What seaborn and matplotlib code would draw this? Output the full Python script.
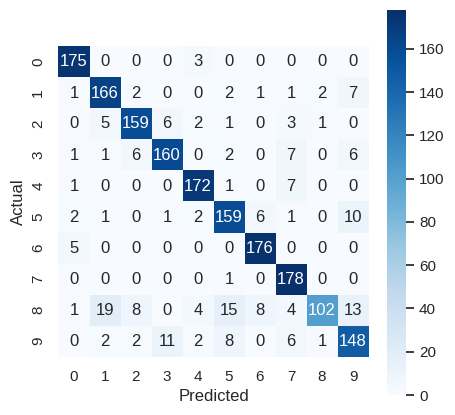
import numpy as np
import matplotlib
matplotlib.use("Agg")
import matplotlib.pyplot as plt
import seaborn as sns

# confusion matrix values (rows = actual, cols = predicted)
labels = [0, 1, 2, 3, 4, 5, 6, 7, 8, 9]
row0 = [175, 0, 0, 0, 3, 0, 0, 0, 0, 0]
row1 = [1, 166, 2, 0, 0, 2, 1, 1, 2, 7]
row2 = [0, 5, 159, 6, 2, 1, 0, 3, 1, 0]
row3 = [1, 1, 6, 160, 0, 2, 0, 7, 0, 6]
row4 = [1, 0, 0, 0, 172, 1, 0, 7, 0, 0]
row5 = [2, 1, 0, 1, 2, 159, 6, 1, 0, 10]
row6 = [5, 0, 0, 0, 0, 0, 176, 0, 0, 0]
row7 = [0, 0, 0, 0, 0, 1, 0, 178, 0, 0]
row8 = [1, 19, 8, 0, 4, 15, 8, 4, 102, 13]
row9 = [0, 2, 2, 11, 2, 8, 0, 6, 1, 148]

cm = np.array([row0, row1, row2, row3, row4, row5, row6, row7, row8, row9])

sns.set_theme()
plt.rcParams['font.family'] = ['Liberation Sans', 'DejaVu Sans']

fig = plt.figure(figsize=(4.55, 4.15), dpi=100)
ax = fig.add_axes([58.5 / 455, 1 - 356.5 / 415, 310 / 455, 310 / 415])
cax = fig.add_axes([386.7 / 455, 1 - 395 / 415, 19 / 455, 385 / 415])

sns.heatmap(cm, annot=True, fmt='d', cmap='Blues', square=True,
            xticklabels=labels, yticklabels=labels, ax=ax, cbar_ax=cax)
ax.set_xlabel('Predicted')
ax.set_ylabel('Actual')

fig.savefig('out.png', dpi=100)
